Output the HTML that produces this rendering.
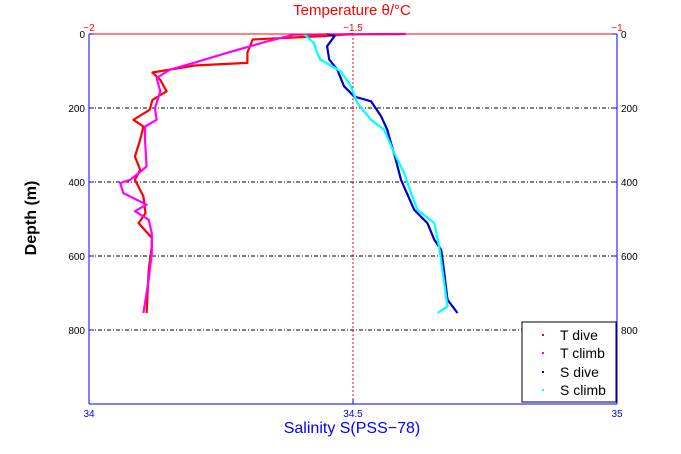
<!DOCTYPE html>
<html><head><meta charset="utf-8"><style>
body{margin:0;background:#fff;}
svg{display:block;font-family:"Liberation Sans",sans-serif;}
</style></head><body>
<svg width="681" height="454" viewBox="0 0 681 454" xmlns="http://www.w3.org/2000/svg">
<g id="grid"></g>
<g id="series"></g>
<g id="axes"></g>
<g>
<rect x="522" y="322" width="94" height="80" fill="#fff" stroke="#000" stroke-width="1"/>
<rect x="542" y="334" width="2" height="2" fill="#f00"/><text x="560" y="340" font-size="14" fill="#000">T dive</text>
<rect x="542" y="352" width="2" height="2" fill="#f0f"/><text x="560" y="358" font-size="14" fill="#000">T climb</text>
<rect x="542" y="371" width="2" height="2" fill="#00c"/><text x="560" y="377" font-size="14" fill="#000">S dive</text>
<rect x="542" y="389" width="2" height="2" fill="#0ff"/><text x="560" y="395" font-size="14" fill="#000">S climb</text>
</g>
<text x="352" y="15" font-size="15" fill="#f00" text-anchor="middle">Temperature θ/°C</text>
<text x="352" y="433" font-size="16" fill="#00f" text-anchor="middle">Salinity S(PSS−78)</text>
<text transform="translate(36,218) rotate(-90)" font-size="16" font-weight="bold" fill="#000" text-anchor="middle">Depth (m)</text>
</svg>
<script>
const depthTicks=[0,200,400,600,800];
const tempTicks=[-2,-1.5,-1];
const tempTickLabels=["−2","−1.5","−1"];
const salTicks=[34,34.5,35];
const salTickLabels=["34","34.5","35"];
const tDiveDepth=[0,5,15,50,78,85,104,124,155,178,205,232,250,286,331,367,394,439,484,511,551,574,637,700,754];
const tDiveTemp=[-1.50,-1.55,-1.69,-1.70,-1.70,-1.80,-1.88,-1.865,-1.853,-1.88,-1.885,-1.916,-1.897,-1.903,-1.913,-1.903,-1.913,-1.897,-1.893,-1.906,-1.881,-1.881,-1.887,-1.889,-1.891];
const tClimbDepth=[0,2,20,51,78,96,119,155,200,232,250,286,358,376,394,403,430,461,479,502,538,592,664,754];
const tClimbTemp=[-1.40,-1.612,-1.663,-1.739,-1.802,-1.846,-1.872,-1.865,-1.875,-1.872,-1.894,-1.894,-1.891,-1.906,-1.922,-1.941,-1.935,-1.891,-1.913,-1.887,-1.881,-1.881,-1.887,-1.897];
const sDiveDepth=[0,6,33,69,96,141,169,182,222,259,295,340,394,475,511,556,583,646,718,754];
const sDiveSal=[34.451,34.465,34.451,34.455,34.470,34.483,34.502,34.534,34.553,34.565,34.572,34.581,34.591,34.616,34.641,34.654,34.667,34.673,34.679,34.698];
const sClimbDepth=[0,24,51,69,101,141,186,232,259,322,376,430,475,511,574,646,736,754];
const sClimbSal=[34.407,34.426,34.432,34.438,34.477,34.496,34.508,34.534,34.559,34.578,34.597,34.610,34.622,34.654,34.663,34.670,34.679,34.66];

const X0=89,X1=617,Y0=34,Y1=404;
const yD=d=>Y0+(d/1000)*(Y1-Y0);
const xT=t=>X0+(t+2)*(X1-X0);
const xS=s=>X0+(s-34)*(X1-X0);
const NS="http://www.w3.org/2000/svg";
function mk(tag,attrs,parent){const e=document.createElementNS(NS,tag);for(const k in attrs)e.setAttribute(k,attrs[k]);parent.appendChild(e);return e;}
const grid=document.getElementById('grid'),series=document.getElementById('series'),axes=document.getElementById('axes');
depthTicks.forEach(d=>{if(d===0)return;
 const l=mk('line',{x1:X0,x2:X1,y1:yD(d),y2:yD(d),stroke:'#000','stroke-width':1,'stroke-dasharray':'4,2,1,2'},grid);
 
 
});
const vl=mk('line',{x1:xS(34.5),x2:xS(34.5),y1:Y0,y2:Y1,stroke:'#f00','stroke-width':1,'stroke-dasharray':'2,2'},grid);


function line(ds,vs,fx,color,name){
 const pts=ds.map((d,i)=>fx(vs[i]).toFixed(1)+','+yD(d).toFixed(1)).join(' ');
 const p=mk('polyline',{points:pts,fill:'none',stroke:color,'stroke-width':2.2,'stroke-linejoin':'round'},series);
 
 
}
line(tDiveDepth,tDiveTemp,xT,'#f00','t-dive-line');
line(tClimbDepth,tClimbTemp,xT,'#f0f','t-climb-line');
line(sDiveDepth,sDiveSal,xS,'#00c','s-dive-line');
line(sClimbDepth,sClimbSal,xS,'#0ff','s-climb-line');
const ax=[[X0,Y1,X1,Y1,'#00f','bottom-axis'],[X0,Y0,X0,Y1,'#00f','left-axis'],[X1,Y0,X1,Y1,'#00f','right-axis'],[X0,Y0,X1,Y0,'#f00','top-axis']];
ax.forEach(a=>{const l=mk('line',{x1:a[0],y1:a[1],x2:a[2],y2:a[3],stroke:a[4],'stroke-width':1},axes);
 
 });
depthTicks.forEach(d=>{
 const t1=mk('text',{x:X0-4,y:yD(d)+4,'font-size':10,'text-anchor':'end',fill:'#000'},axes);t1.textContent=d;
 
 
 const t2=mk('text',{x:X1+4,y:yD(d)+4,'font-size':10,fill:'#000'},axes);t2.textContent=d;
 
 
 mk('line',{x1:X0,x2:X0+5,y1:yD(d),y2:yD(d),stroke:'#00f'},axes);
 mk('line',{x1:X1-5,x2:X1,y1:yD(d),y2:yD(d),stroke:'#00f'},axes);
});
tempTicks.forEach((t,i)=>{
 const e=mk('text',{x:xT(t),y:Y0-3,'font-size':10,'text-anchor':'middle',fill:'#f00'},axes);e.textContent=tempTickLabels[i];
 
 
});
salTicks.forEach((s,i)=>{
 const e=mk('text',{x:xS(s),y:Y1+13,'font-size':10,'text-anchor':'middle',fill:'#00f'},axes);e.textContent=salTickLabels[i];
 
 
 mk('line',{x1:xS(s),x2:xS(s),y1:Y1-5,y2:Y1,stroke:'#00f'},axes);
});
</script>
</body></html>
